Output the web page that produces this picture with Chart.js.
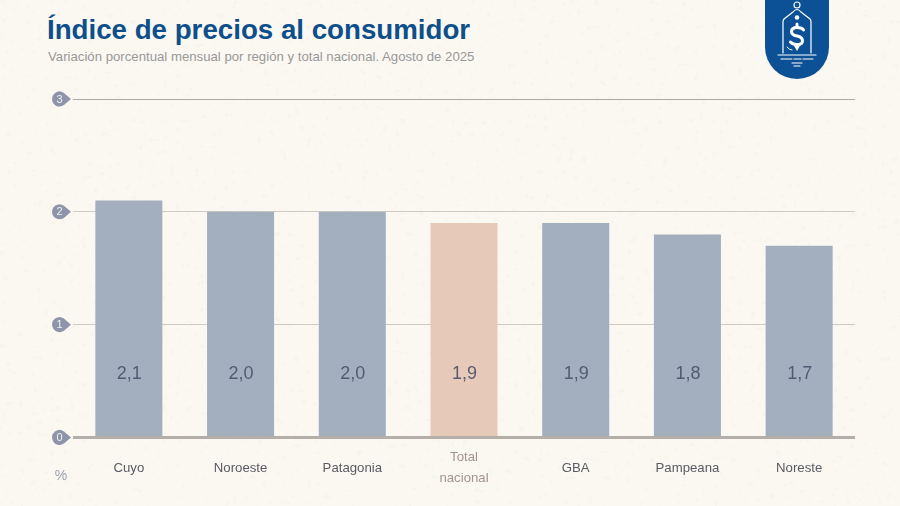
<!DOCTYPE html>
<html lang="es">
<head>
<meta charset="utf-8">
<title>Índice de precios al consumidor</title>
<script src="https://cdn.jsdelivr.net/npm/chart.js@4/dist/chart.umd.min.js"></script>
<style>
  html, body { margin: 0; padding: 0; }
  body { width: 900px; height: 506px; overflow: hidden; background: #fbf8f2; position: relative; font-family: "Liberation Sans", Arial, sans-serif; }
  #texture, #logo, canvas { position: absolute; left: 0; top: 0; }
  #logo { left: 765px; }
  h1 { position: absolute; left: 47px; top: 12px; margin: 0; font-size: 27.7px; line-height: 36px; font-weight: 700; color: #0d4f8b; white-space: nowrap; }
  p { position: absolute; left: 48px; top: 48px; margin: 0; font-size: 13.2px; line-height: 17px; color: #989898; white-space: nowrap; }
</style>
</head>
<body>
<!-- faint paper specks behind everything -->
<svg id="texture" width="900" height="506">
  <filter id="specks" x="0" y="0" width="100%" height="100%">
    <feTurbulence type="fractalNoise" baseFrequency="0.16" numOctaves="2" seed="7"/>
    <feColorMatrix values="0 0 0 0 0.89  0 0 0 0 0.86  0 0 0 0 0.79  0 0 12 0 -7.9"/>
  </filter>
  <rect width="900" height="506" filter="url(#specks)" opacity="0.35"/>
</svg>
<h1>Índice de precios al consumidor</h1>
<p>Variación porcentual mensual por región y total nacional. Agosto de 2025</p>
<svg id="logo" width="64" height="80" viewBox="0 0 64 80">
  <path d="M0 0H64V47A32 32 0 0 1 0 47Z" fill="#0c5196"/>
  <g fill="none" stroke="#fff" stroke-width="1.2" stroke-linecap="round" stroke-linejoin="round">
    <circle cx="32" cy="5" r="3"/>
    <path d="M28 12Q32 7 36 12L45 19Q46 20 46 22V53M18 53V22Q18 20 19 19L28 12"/>
    <path d="M13 55H51M16 59H27M29 59H36M38 59H48M27 63H37M29 66H35"/>
    <path d="M38.500 30Q37 27.500 32 27.500Q26.500 27.500 26.500 31.500Q26.500 35 32 36Q37.500 37 37.500 41Q37.500 44.500 32 44.500Q27.500 44.500 25.500 42" stroke-width="3"/>
    <path d="M32 24V27.500" stroke-width="3"/>
    <path d="M22 47Q24 50 27 50" stroke-width="1"/>
  </g>
  <path d="M28.500 45H35.500L32 51Z" fill="#fff"/>
  <circle cx="32" cy="17.500" r="2.300" fill="#fff"/>
</svg>
<canvas id="chart" width="900" height="506"></canvas>
<script>
const CATEGORIES = ['Cuyo', 'Noroeste', 'Patagonia', ['Total', 'nacional'], 'GBA', 'Pampeana', 'Noreste'];
const VALUES = [2.1, 2.0, 2.0, 1.9, 1.9, 1.8, 1.7];
const Y_TICKS = [0, 1, 2, 3];
const HIGHLIGHT_INDEX = 3;
const UNIT_LABEL = '%';

const FONT = '"Liberation Sans", Arial, sans-serif';
const BAR_COLOR = '#a3afbf';
const HIGHLIGHT_COLOR = '#e6c9b9';
const BADGE_COLOR = '#8e94a9';

function formatValue(v) {
  return v.toFixed(1).replace('.', ',');
}

// Value labels sit at one height inside every bar, not at the bar tip.
const barValues = {
  id: 'barValues',
  afterDatasetsDraw(chart) {
    const { ctx, scales } = chart;
    const y = scales.y.getPixelForValue(0.56);
    ctx.save();
    ctx.font = `18px ${FONT}`;
    ctx.textAlign = 'center';
    ctx.textBaseline = 'middle';
    chart.getDatasetMeta(0).data.forEach((bar, i) => {
      ctx.fillStyle = i === HIGHLIGHT_INDEX ? '#5d5a70' : '#525b73';
      ctx.fillText(formatValue(VALUES[i]), bar.x + 0.5, y);
    });
    ctx.restore();
  },
};

// Y ticks are white numbers on small drop shaped badges left of the gridlines.
const tickBadges = {
  id: 'tickBadges',
  afterDraw(chart) {
    const { ctx, scales } = chart;
    ctx.save();
    for (const t of Y_TICKS) {
      const y = scales.y.getPixelForValue(t);
      const cx = 59.5;
      ctx.fillStyle = BADGE_COLOR;
      ctx.beginPath();
      ctx.arc(cx, y, 7.5, Math.PI * 0.3, Math.PI * 1.7);
      ctx.lineTo(71, y);
      ctx.closePath();
      ctx.fill();
      ctx.fillStyle = '#f4f2ee';
      ctx.font = `11px ${FONT}`;
      ctx.textAlign = 'center';
      ctx.textBaseline = 'middle';
      ctx.fillText(String(t), cx, y + 0.5);
    }
    ctx.fillStyle = '#9a9fb0';
    ctx.font = `14px ${FONT}`;
    ctx.textAlign = 'center';
    ctx.textBaseline = 'middle';
    ctx.fillText(UNIT_LABEL, 61, 476.5);
    ctx.restore();
  },
};

new Chart(document.getElementById('chart'), {
  type: 'bar',
  data: {
    labels: CATEGORIES,
    datasets: [{
      data: VALUES,
      backgroundColor: VALUES.map((_, i) => (i === HIGHLIGHT_INDEX ? HIGHLIGHT_COLOR : BAR_COLOR)),
      borderWidth: 0,
      categoryPercentage: 0.6,
      barPercentage: 1,
    }],
  },
  options: {
    responsive: false,
    animation: false,
    devicePixelRatio: 1,
    layout: { padding: { left: 73, right: 45, top: 99, bottom: 0 } },
    plugins: { legend: { display: false }, tooltip: { enabled: false } },
    scales: {
      x: {
        afterFit: (axis) => { axis.height = 68.5; },
        grid: { display: false },
        border: { display: false },
        ticks: {
          maxRotation: 0,
          autoSkip: false,
          padding: 12,
          crossAlign: 'center',
          font: { family: FONT, size: 13.2, lineHeight: 1.6 },
          color: (c) => (c.index === HIGHLIGHT_INDEX ? '#a3938a' : '#5a5a64'),
        },
      },
      y: {
        min: 0,
        max: 3,
        afterBuildTicks: (axis) => { axis.ticks = Y_TICKS.map((value) => ({ value })); },
        ticks: { display: false },
        border: { display: false },
        grid: {
          drawTicks: false,
          lineWidth: (c) => (c.tick.value === 0 ? 3 : 1),
          color: (c) => (c.tick.value === 3 ? '#aeaaa3' : c.tick.value === 0 ? '#b4b0a9' : '#cfcbc0'),
        },
      },
    },
  },
  plugins: [barValues, tickBadges],
});
</script>
</body>
</html>
